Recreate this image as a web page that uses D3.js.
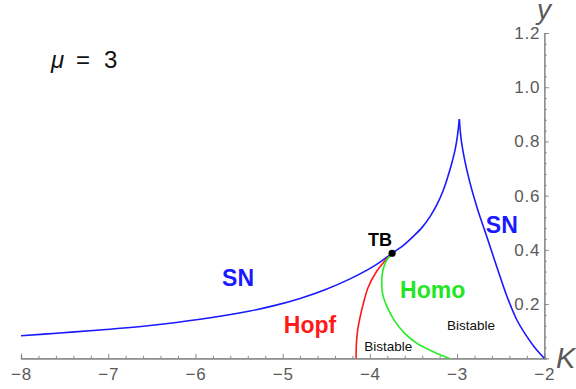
<!DOCTYPE html>
<html>
<head>
<meta charset="utf-8">
<script src="https://cdn.jsdelivr.net/npm/d3@7"></script>
<style>
  html, body { margin: 0; padding: 0; background: #fff; }
  svg { display: block; }
  text { font-family: "Liberation Sans", Arial, Helvetica, sans-serif; }
</style>
</head>
<body>
<svg id="chart" width="576" height="389"></svg>
<script>
// Bifurcation curves in the (K, y) plane, mu = 3
const snLeft = [
  [-8.0, 0.0834], [-7.553, 0.0934], [-7.094, 0.1044], [-6.521, 0.121], [-5.947, 0.1439],
  [-5.374, 0.1745], [-5.087, 0.1952], [-4.8, 0.221], [-4.514, 0.2531], [-4.227, 0.293],
  [-3.94, 0.3428], [-3.745, 0.3875], [-3.619, 0.416], [-3.505, 0.449], [-3.401, 0.483],
  [-3.31, 0.5225], [-3.23, 0.5675], [-3.157, 0.621], [-3.103, 0.673], [-3.061, 0.7196],
  [-3.023, 0.7686], [-2.997, 0.8177], [-2.974, 0.882]
];
const snRight = [
  [-2.974, 0.882], [-2.947, 0.793], [-2.87, 0.67], [-2.774, 0.559], [-2.66, 0.449],
  [-2.545, 0.338], [-2.43, 0.23], [-2.32, 0.145], [-2.22, 0.09], [-2.11, 0.04], [-2.0, 0.0]
];
const hopf = [
  [-3.745, 0.3875], [-3.84, 0.355], [-3.92, 0.322], [-4.017, 0.264], [-4.074, 0.203],
  [-4.11, 0.155], [-4.14, 0.104], [-4.155, 0.05], [-4.158, 0.0]
];
const homo = [
  [-3.745, 0.3875], [-3.81, 0.36], [-3.85, 0.325], [-3.864, 0.289], [-3.852, 0.235],
  [-3.80, 0.188], [-3.72, 0.14], [-3.60, 0.092], [-3.46, 0.055], [-3.23, 0.018], [-3.09, 0.0]
];
const tbPoint = [-3.745, 0.3875];

const xMajorTicks = [-8, -7, -6, -5, -4, -3, -2];
const yMajorTicks = [0.2, 0.4, 0.6, 0.8, 1.0, 1.2];

const svg = d3.select("#chart");
const x = d3.scaleLinear().domain([-8, -2]).range([21, 544.3]);
const y = d3.scaleLinear().domain([0, 1.2]).range([358.3, 33]);

const axisColor = "#8a8a8a";
const labelColor = "#5a5a5a";

// minor ticks
const xMinor = d3.range(-8, -2.001, 0.2).filter(v => Math.abs(v - Math.round(v)) > 1e-6);
const yMinor = d3.range(0.04, 1.2001, 0.04).filter(v => Math.abs(v * 5 - Math.round(v * 5)) > 1e-6);

function styleAxis(g) {
  g.select(".domain").attr("stroke", axisColor).attr("stroke-width", 1.2);
  g.selectAll(".tick line").attr("stroke", axisColor).attr("stroke-width", 1);
  g.selectAll("text").attr("fill", labelColor).attr("font-size", 17)
    .attr("letter-spacing", "0.8px")
    .attr("font-family", "Liberation Sans, Arial, sans-serif");
}

const gx = svg.append("g").attr("transform", `translate(0,${y(0)})`);
gx.call(d3.axisBottom(x).tickValues(xMinor).tickSize(-2.5).tickFormat(""));
const gx2 = svg.append("g").attr("transform", `translate(0,${y(0)})`);
gx2.call(d3.axisBottom(x).tickValues(xMajorTicks).tickSize(-4.5).tickPadding(10)
  .tickFormat(d3.format("d")));
[gx, gx2].forEach(styleAxis);

const gy = svg.append("g").attr("transform", `translate(${x(-2)},0)`);
gy.call(d3.axisLeft(y).tickValues(yMinor).tickSize(-2.5).tickFormat(""));
const gy2 = svg.append("g").attr("transform", `translate(${x(-2)},0)`);
gy2.call(d3.axisLeft(y).tickValues(yMajorTicks).tickSize(-4.5).tickPadding(4)
  .tickFormat(d3.format(".1f")));
[gy, gy2].forEach(styleAxis);

// axis names
svg.append("text").attr("x", 556).attr("y", 368).attr("font-size", 29)
  .attr("font-style", "italic").attr("fill", labelColor).text("K");
svg.append("text").attr("x", 537).attr("y", 19).attr("font-size", 28)
  .attr("font-style", "italic").attr("fill", labelColor).text("y");

// curves
const line = d3.line().x(d => x(d[0])).y(d => y(d[1])).curve(d3.curveCatmullRom.alpha(0.5));
const curves = [
  { data: snLeft, color: "#1a1aff" },
  { data: snRight, color: "#1a1aff" },
  { data: hopf, color: "#ff1a1a" },
  { data: homo, color: "#22ee22" }
];
svg.append("g").selectAll("path").data(curves).join("path")
  .attr("d", d => line(d.data))
  .attr("fill", "none")
  .attr("stroke", d => d.color)
  .attr("stroke-width", 1.6)
  .attr("stroke-linejoin", "round");

svg.append("circle").attr("cx", x(tbPoint[0])).attr("cy", y(tbPoint[1]))
  .attr("r", 3.6).attr("fill", "#000");

// region and curve labels
const labels = [
  { t: "SN", k: -5.511, v: 0.265, size: 23, color: "#1a1aff", bold: true },
  { t: "SN", k: -2.487, v: 0.462, size: 23, color: "#1a1aff", bold: true },
  { t: "TB", k: -3.883, v: 0.414, size: 18, color: "#000", bold: true },
  { t: "Hopf", k: -4.686, v: 0.092, size: 23, color: "#ff1a1a", bold: true },
  { t: "Homo", k: -3.28, v: 0.221, size: 23, color: "#22e622", bold: true },
  { t: "Bistable", k: -3.79, v: 0.027, size: 13.5, color: "#111", bold: false },
  { t: "Bistable", k: -2.84, v: 0.104, size: 13.5, color: "#111", bold: false }
];
svg.append("g").selectAll("text").data(labels).join("text")
  .attr("x", d => x(d.k)).attr("y", d => y(d.v))
  .attr("text-anchor", "middle")
  .attr("font-size", d => d.size)
  .attr("font-weight", d => d.bold ? "bold" : "normal")
  .attr("fill", d => d.color)
  .text(d => d.t);

const mu = svg.append("text").attr("y", 67.5).attr("font-size", 24).attr("fill", "#111");
mu.append("tspan").attr("x", 51).attr("font-style", "italic").text("μ");
mu.append("tspan").attr("x", 76).text("=");
mu.append("tspan").attr("x", 104).text("3");
</script>
</body>
</html>
